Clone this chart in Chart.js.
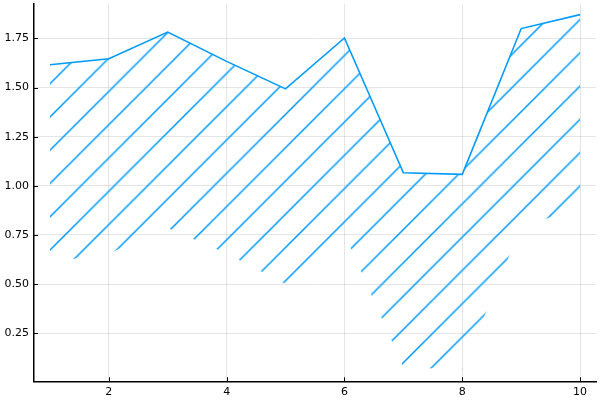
<!DOCTYPE html>
<html>
<head>
<meta charset="utf-8">
<script src="https://cdn.jsdelivr.net/npm/chart.js@4/dist/chart.umd.min.js"></script>
<style>
  html, body { margin: 0; padding: 0; background: #fff; }
  #wrap { width: 600px; height: 400px; }
</style>
</head>
<body>
<div id="wrap"><canvas id="chart" width="600" height="400"></canvas></div>
<script>
// values
const xValues = [1, 2, 3, 4, 5, 6, 7, 8, 9, 10];
const lineValues = [1.616, 1.646, 1.782, 1.633, 1.493, 1.752, 1.066, 1.058, 1.800, 1.871];
const fillRange = [0.61, 0.655, 0.785, 0.655, 0.50, 0.755, 0.077, 0.065, 0.79, 0.89];
const xTicks = [2, 4, 6, 8, 10];
const yTicks = [0.25, 0.5, 0.75, 1.0, 1.25, 1.5, 1.75];

const blue = '#009AFA';

// diagonal "/" hatch
function hatchPattern(ctx) {
  const size = 33;
  const tile = document.createElement('canvas');
  tile.width = size;
  tile.height = size;
  const t = tile.getContext('2d');
  t.strokeStyle = blue;
  t.lineWidth = 1.5;
  t.beginPath();
  t.moveTo(-5, size + 5); t.lineTo(size + 5, -5);
  t.moveTo(-5, 5); t.lineTo(5, -5);
  t.moveTo(size - 5, size + 5); t.lineTo(size + 5, size - 5);
  t.stroke();
  const p = ctx.createPattern(tile, 'repeat');
  const s = 33.28 / size;
  p.setTransform(new DOMMatrix([s, 0, 0, s, 0.5, 0]));
  return p;
}

// plots-style inward tick marks
const innerTicks = {
  id: 'innerTicks',
  afterDraw(chart) {
    const { ctx, chartArea, scales } = chart;
    ctx.save();
    ctx.strokeStyle = '#000';
    ctx.lineWidth = 1;
    ctx.beginPath();
    xTicks.forEach(v => {
      const px = Math.round(scales.x.getPixelForValue(v)) + 0.5;
      ctx.moveTo(px, chartArea.bottom);
      ctx.lineTo(px, chartArea.bottom - 4);
    });
    yTicks.forEach(v => {
      const py = Math.round(scales.y.getPixelForValue(v)) + 0.5;
      ctx.moveTo(chartArea.left, py);
      ctx.lineTo(chartArea.left + 4, py);
    });
    ctx.stroke();
    ctx.restore();
  }
};

const canvas = document.getElementById('chart');
const ctx = canvas.getContext('2d');

new Chart(ctx, {
  type: 'line',
  data: {
    datasets: [
      {
        data: xValues.map((x, i) => ({ x: x, y: fillRange[i] })),
        borderColor: 'rgba(0,0,0,0)',
        borderWidth: 0,
        pointRadius: 0,
        fill: false
      },
      {
        data: xValues.map((x, i) => ({ x: x, y: lineValues[i] })),
        borderColor: blue,
        borderWidth: 1.6,
        pointRadius: 0,
        tension: 0,
        fill: '-1',
        backgroundColor: hatchPattern(ctx)
      }
    ]
  },
  options: {
    responsive: false,
    animation: false,
    layout: { padding: { top: 4, right: 4, left: 0, bottom: 0 } },
    plugins: { legend: { display: false }, tooltip: { enabled: false } },
    scales: {
      x: {
        type: 'linear',
        min: 0.73,
        max: 10.27,
        afterBuildTicks: scale => { scale.ticks = xTicks.map(v => ({ value: v })); },
        afterFit: scale => {
          scale.height = 18.7;
          scale.paddingLeft = 0;
          scale.paddingRight = 0;
        },
        grid: { color: 'rgba(0,0,0,0.1)', lineWidth: 1, drawTicks: false },
        border: { display: true, color: '#000', width: 1.5 },
        ticks: {
          color: '#000',
          padding: 4,
          maxRotation: 0,
          font: { family: 'DejaVu Sans', size: 11 },
          callback: v => String(v)
        }
      },
      y: {
        min: 0.005,
        max: 1.925,
        afterBuildTicks: scale => { scale.ticks = yTicks.map(v => ({ value: v })); },
        afterFit: scale => {
          scale.width = 34;
          scale.paddingTop = 0;
          scale.paddingBottom = 0;
        },
        grid: { color: 'rgba(0,0,0,0.1)', lineWidth: 1, drawTicks: false },
        border: { display: true, color: '#000', width: 1.5 },
        ticks: {
          color: '#000',
          padding: 5,
          font: { family: 'DejaVu Sans', size: 11 },
          callback: v => v.toFixed(2)
        }
      }
    }
  },
  plugins: [innerTicks]
});
</script>
</body>
</html>
